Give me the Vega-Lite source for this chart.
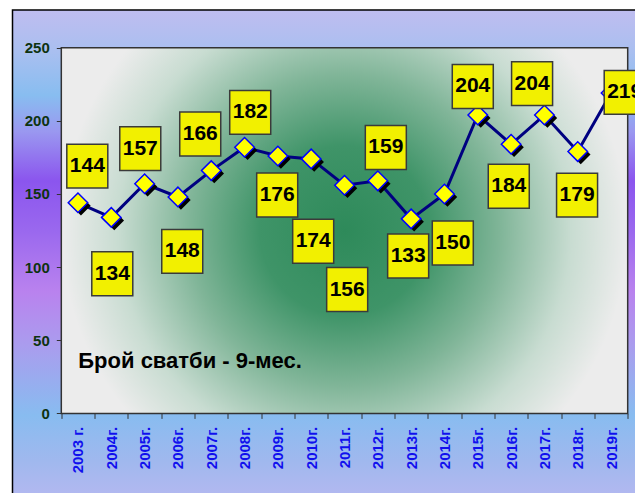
{
  "$schema": "https://vega.github.io/schema/vega-lite/v6.json",
  "width": 627.5,
  "height": 485,
  "autosize": {"type": "none"},
  "padding": {"left": 12.5, "top": 10, "right": 0, "bottom": 0},
  "background": "white",
  "config": {
    "axis": {"labelOverlap": false, "labelFlush": false, "labelBound": false, "grid": false, "domain": false}
  },
  "view": {
    "fill": {
      "gradient": "linear", "x1": 0, "y1": 0, "x2": 0, "y2": 1,
      "stops": [
        {"offset": 0, "color": "#bfbdf0"},
        {"offset": 0.083, "color": "#aabff0"},
        {"offset": 0.176, "color": "#88bdf0"},
        {"offset": 0.25, "color": "#9a98f0"},
        {"offset": 0.352, "color": "#8b55ee"},
        {"offset": 0.455, "color": "#9a68ee"},
        {"offset": 0.58, "color": "#b982ee"},
        {"offset": 0.69, "color": "#aa9cee"},
        {"offset": 0.835, "color": "#88bcf0"},
        {"offset": 0.93, "color": "#a0b8ee"},
        {"offset": 1, "color": "#b2b8f0"}
      ]
    },
    "stroke": "#000000",
    "strokeWidth": 1.5
  },
  "data": {
    "values": [
      {"year": 2003, "value": 144, "labelX": 2003.28, "labelY": 169.1},
      {"year": 2004, "value": 134, "labelX": 2004.03, "labelY": 95.5},
      {"year": 2005, "value": 157, "labelX": 2004.87, "labelY": 181.0},
      {"year": 2006, "value": 148, "labelX": 2006.13, "labelY": 110.8},
      {"year": 2007, "value": 166, "labelX": 2006.67, "labelY": 191.0},
      {"year": 2008, "value": 182, "labelX": 2008.17, "labelY": 205.8},
      {"year": 2009, "value": 176, "labelX": 2008.98, "labelY": 149.3},
      {"year": 2010, "value": 174, "labelX": 2010.06, "labelY": 117.7},
      {"year": 2011, "value": 156, "labelX": 2011.08, "labelY": 84.7},
      {"year": 2012, "value": 159, "labelX": 2012.24, "labelY": 181.8},
      {"year": 2013, "value": 133, "labelX": 2012.91, "labelY": 107.6},
      {"year": 2014, "value": 150, "labelX": 2014.25, "labelY": 116.5},
      {"year": 2015, "value": 204, "labelX": 2014.85, "labelY": 223.5},
      {"year": 2016, "value": 184, "labelX": 2015.93, "labelY": 155.3},
      {"year": 2017, "value": 204, "labelX": 2016.63, "labelY": 225.5},
      {"year": 2018, "value": 179, "labelX": 2017.98, "labelY": 149.2},
      {"year": 2019, "value": 219, "labelX": 2019.41, "labelY": 219.5}
    ]
  },
  "layer": [
    {
      "data": {"values": [{}]},
      "mark": {
        "type": "rect",
        "fill": {
          "gradient": "radial", "x1": 0.5, "y1": 0.5, "r1": 0, "x2": 0.5, "y2": 0.5, "r2": 0.5,
          "stops": [
            {"offset": 0, "color": "#2e8a5a"},
            {"offset": 0.3, "color": "#3f9468"},
            {"offset": 0.55, "color": "#80b598"},
            {"offset": 0.8, "color": "#c8dcd1"},
            {"offset": 1, "color": "#ececec"}
          ]
        },
        "stroke": "#333333",
        "strokeWidth": 1.5
      },
      "encoding": {
        "x": {
          "datum": 2002.5,
          "type": "quantitative",
          "scale": {"domain": [2001.035, 2019.869], "nice": false, "zero": false},
          "axis": {
            "values": [2002.5, 2003.5, 2004.5, 2005.5, 2006.5, 2007.5, 2008.5, 2009.5, 2010.5, 2011.5, 2012.5, 2013.5, 2014.5, 2015.5, 2016.5, 2017.5, 2018.5, 2019.5],
            "tickCount": 40,
            "offset": -81.6,
            "domain": false,
            "grid": false,
            "ticks": true,
            "tickSize": 5,
            "tickColor": "#333333",
            "labelOffset": 16.66,
            "labelExpr": "datum.value >= 2019 ? '' : (datum.value == 2002.5 ? '2003 г.' : (datum.value + 0.5) + 'г.')",
            "labelAngle": 270,
            "labelPadding": 8,
            "labelFont": "Liberation Sans",
            "labelFontSize": 15,
            "labelFontWeight": "bold",
            "labelColor": "#1010ee",
            "labelOverlap": false,
            "labelFlush": false,
            "labelBound": false,
            "title": null
          }
        },
        "x2": {"datum": 2019.5},
        "y": {
          "datum": 0,
          "type": "quantitative",
          "scale": {"domain": [-55.8, 275.8], "nice": false, "zero": false},
          "axis": {
            "values": [0, 50, 100, 150, 200, 250],
            "tickCount": 20,
            "offset": -48.8,
            "domain": false,
            "grid": false,
            "ticks": true,
            "tickSize": 5,
            "tickColor": "#333333",
            "labelPadding": 7,
            "labelFont": "Liberation Sans",
            "labelFontSize": 15,
            "labelFontWeight": "bold",
            "labelColor": "#0d330f",
            "title": null
          }
        },
        "y2": {"datum": 250}
      }
    },
    {
      "mark": {"type": "line", "color": "#000080", "strokeWidth": 3},
      "encoding": {
        "x": {"field": "year", "type": "quantitative"},
        "y": {"field": "value", "type": "quantitative"}
      }
    },
    {
      "mark": {"type": "point", "shape": "diamond", "filled": true, "fill": "#000000", "opacity": 1, "size": 380, "xOffset": 3, "yOffset": 3},
      "encoding": {
        "x": {"field": "year", "type": "quantitative"},
        "y": {"field": "value", "type": "quantitative"}
      }
    },
    {
      "mark": {"type": "point", "shape": "diamond", "filled": true, "fill": "#ffff00", "stroke": "#0000ff", "strokeWidth": 1.5, "opacity": 1, "size": 380},
      "encoding": {
        "x": {"field": "year", "type": "quantitative"},
        "y": {"field": "value", "type": "quantitative"}
      }
    },
    {
      "mark": {"type": "point", "shape": "M-1,-1.07H1V1.07H-1Z", "filled": true, "fill": "#f2f000", "stroke": "#3a3a3a", "strokeWidth": 1.5, "opacity": 1, "size": 1681},
      "encoding": {
        "x": {"field": "labelX", "type": "quantitative"},
        "y": {"field": "labelY", "type": "quantitative"}
      }
    },
    {
      "mark": {"type": "text", "font": "Liberation Sans", "fontSize": 21, "fontWeight": "bold", "color": "#000000", "align": "center", "baseline": "middle"},
      "encoding": {
        "x": {"field": "labelX", "type": "quantitative"},
        "y": {"field": "labelY", "type": "quantitative"},
        "text": {"field": "value", "type": "quantitative"}
      }
    },
    {
      "data": {"values": [{}]},
      "mark": {"type": "text", "text": "Брой сватби - 9-мес.", "font": "Liberation Sans", "fontSize": 22, "fontWeight": "bold", "color": "#000000", "align": "left", "baseline": "alphabetic"},
      "encoding": {
        "x": {"datum": 2003.01, "type": "quantitative"},
        "y": {"datum": 30.8, "type": "quantitative"}
      }
    }
  ]
}
